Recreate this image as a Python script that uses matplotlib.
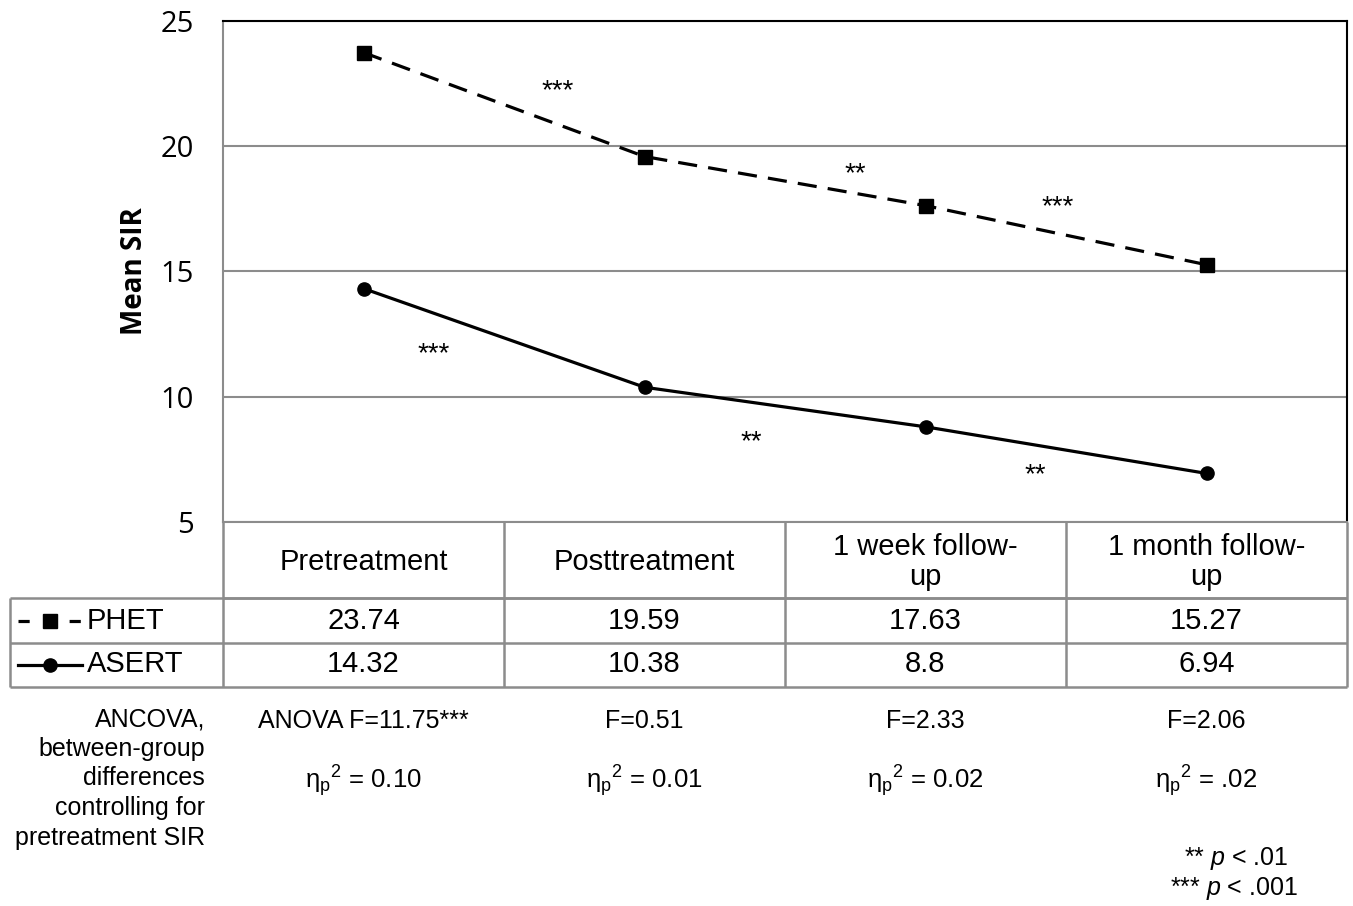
import numpy as np
import matplotlib
matplotlib.use("Agg")
import matplotlib.pyplot as plt
from matplotlib.transforms import blended_transform_factory

# data
timepoints = ["Pretreatment", "Posttreatment", "1 week follow-\nup", "1 month follow-\nup"]
phet = [23.74, 19.59, 17.63, 15.27]
asert = [14.32, 10.38, 8.8, 6.94]
phet_labels = ["23.74", "19.59", "17.63", "15.27"]
asert_labels = ["14.32", "10.38", "8.8", "6.94"]
f_stats = ["ANOVA F=11.75***", "F=0.51", "F=2.33", "F=2.06"]
eta_sq = ["0.10", "0.01", "0.02", ".02"]
# significance stars between adjacent time points: (x, y, text)
phet_stars = [(0.69, 22.2, "***"), (1.75, 18.9, "**"), (2.47, 17.55, "***")]
asert_stars = [(0.25, 11.7, "***"), (1.38, 8.2, "**"), (2.39, 6.85, "**")]

plt.rcParams['mathtext.fontset'] = 'custom'
plt.rcParams['mathtext.rm'] = 'Liberation Sans'
plt.rcParams['mathtext.it'] = 'Liberation Sans:italic'
TF = 'Liberation Sans'
GRAY = '#8c8c8c'

W, H = 1353, 906
fig = plt.figure(figsize=(W / 100, H / 100), dpi=100)

# main plot area in pixel bounds
left, right, top, bottom = 223, 1347, 21, 522
ax = fig.add_axes([left / W, 1 - bottom / H, (right - left) / W, (bottom - top) / H])
x = np.arange(len(timepoints))
ax.plot(x, phet, color='black', lw=2.3, dashes=(6, 3.5), marker='s', ms=9.5)
ax.plot(x, asert, color='black', lw=2.3, marker='o', ms=9.5)
ax.set_xlim(-0.5, len(timepoints) - 0.5)
ax.set_ylim(5, 25)
ax.set_yticks([5, 10, 15, 20, 25])
ax.set_xticks([])
ax.tick_params(axis='y', length=0, pad=21, labelsize=21)
for lab in ax.get_yticklabels():
    lab.set_fontfamily('Open Sans')
ax.yaxis.grid(True, color=GRAY, lw=1.5)
ax.set_axisbelow(True)
ax.spines['top'].set_color('black')
ax.spines['right'].set_color('black')
ax.spines['left'].set_color(GRAY)
ax.spines['bottom'].set_color(GRAY)
for s in ax.spines.values():
    s.set_linewidth(1.5)
ax.set_ylabel("Mean SIR", fontfamily='Open Sans', fontweight='bold', fontsize=20, labelpad=8)

for xs, ys, t in phet_stars + asert_stars:
    ax.text(xs, ys, t, ha='center', va='center', fontfamily=TF, fontsize=20)

# overlay in pixel coordinates for the data table
ov = fig.add_axes([0, 0, 1, 1])
ov.set_xlim(0, W)
ov.set_ylim(H, 0)
ov.axis('off')
tr = blended_transform_factory(ax.transData, ov.transData)

kw = dict(color=GRAY, lw=1.8, solid_capstyle='butt')
ov.plot([left, right], [598, 598], **kw)
ov.plot([10, right], [598, 598], **kw)
ov.plot([10, right], [643, 643], **kw)
ov.plot([10, right], [687, 687], **kw)
ov.plot([10, 10], [598, 687], **kw)
ov.plot([left, left], [522, 687], **kw)
ov.plot([right, right], [522, 687], **kw)
for b in x[:-1] + 0.5:
    ov.plot([b, b], [522, 687], transform=tr, **kw)

for i, name in enumerate(timepoints):
    ov.text(i, 562, name, transform=tr, ha='center', va='center', fontfamily=TF,
            fontsize=21, linespacing=1.08)
    ov.text(i, 621, phet_labels[i], transform=tr, ha='center', va='center', fontfamily=TF, fontsize=21)
    ov.text(i, 664, asert_labels[i], transform=tr, ha='center', va='center', fontfamily=TF, fontsize=21)
    ov.text(i, 721, f_stats[i], transform=tr, ha='center', va='center', fontfamily=TF, fontsize=18)
    ov.text(i, 781, "η$_\\mathrm{p}$$^2$ = " + eta_sq[i], transform=tr, ha='center', va='center',
            fontfamily=TF, fontsize=18.5)

# legend keys inside the table
ov.plot([18, 82], [621, 621], color='black', lw=2.3, dashes=(3.5, 4.5), dash_capstyle='butt')
ov.plot([50], [621], color='black', marker='s', ms=9.5)
ov.text(87, 621, "PHET", ha='left', va='center', fontfamily=TF, fontsize=21)
ov.plot([18, 82], [665, 665], color='black', lw=2.3)
ov.plot([50], [665], color='black', marker='o', ms=9.5)
ov.text(87, 664, "ASERT", ha='left', va='center', fontfamily=TF, fontsize=21)

ov.text(205, 707, "ANCOVA,\nbetween-group\ndifferences\ncontrolling for\npretreatment SIR",
        ha='right', va='top', fontfamily=TF, fontsize=18, linespacing=1.3)

ov.text(1236, 858, "** $p$ < .01", ha='center', va='center', fontfamily=TF, fontsize=18)
ov.text(1234, 888, "*** $p$ < .001", ha='center', va='center', fontfamily=TF, fontsize=18)

fig.savefig("out.png", dpi=100)
